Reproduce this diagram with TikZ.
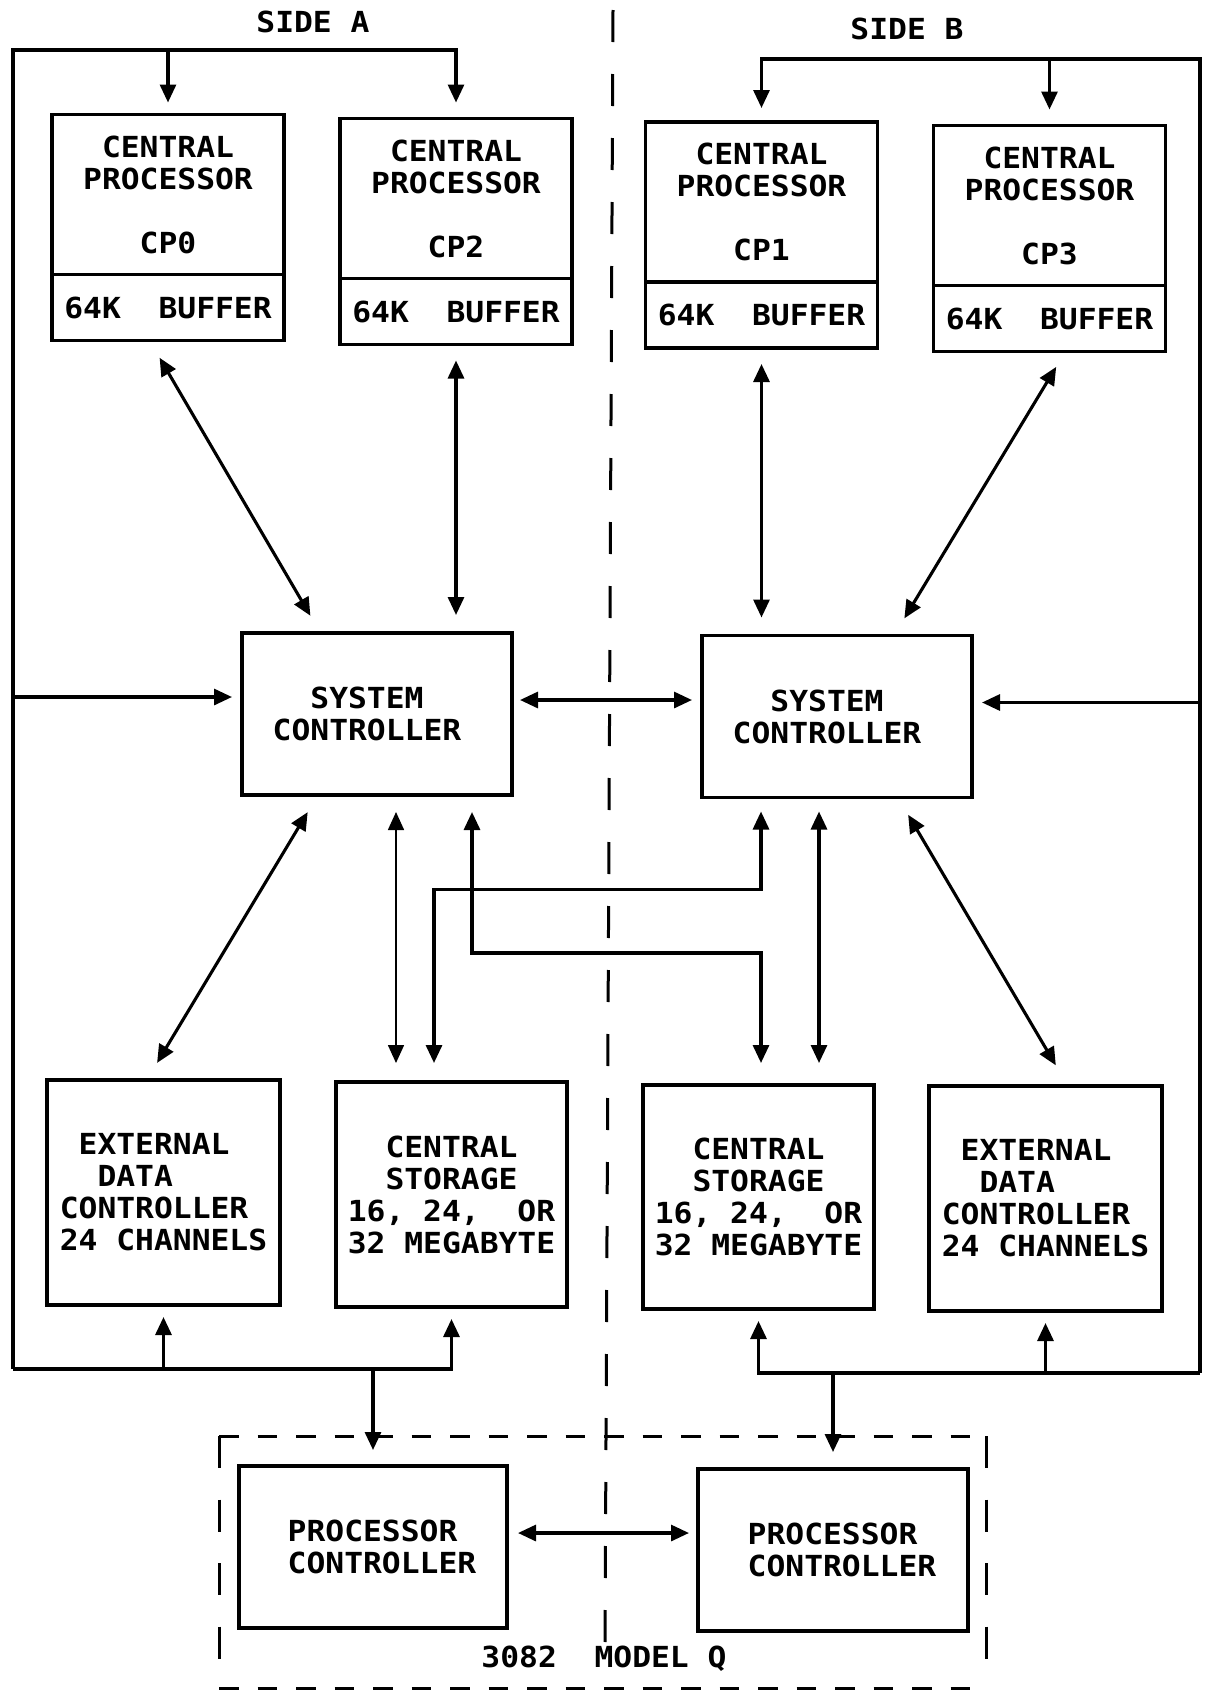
\documentclass[tikz,border=0pt]{standalone}
\usepackage{fontspec}
\newfontfamily\plotfont{DejaVu Sans Mono}[FakeStretch=1.08]
\usetikzlibrary{positioning,calc,arrows.meta}

\begin{document}
\begin{tikzpicture}[x=.5pt,y=-.5pt,
  >={Triangle[length=9pt,width=8pt]},
  every node/.style={font=\plotfont\bfseries\fontsize{14.5}{16}\selectfont},
  unitbox/.style={draw,line width=1.7pt,inner sep=0pt,outer sep=0pt,align=center},
  wire/.style={line width=1.55pt},
  dbl/.style={wire,<->,shorten <=9pt,shorten >=9pt}]
\useasboundingbox (0,0) rectangle (1208,1692);
%Prozessoren
\node[unitbox,minimum width=116pt,minimum height=80pt] (cp0) at (168,194.5) {CENTRAL\\PROCESSOR\\[16pt]CP0};
\node[unitbox,minimum width=116pt,minimum height=33pt,below=0pt of cp0] (cp0b) {64K\ \ BUFFER};
\node[unitbox,minimum width=116pt,minimum height=80pt] (cp2) at (456,198.5) {CENTRAL\\PROCESSOR\\[16pt]CP2};
\node[unitbox,minimum width=116pt,minimum height=33pt,below=0pt of cp2] (cp2b) {64K\ \ BUFFER};
\node[unitbox,minimum width=116pt,minimum height=80pt] (cp1) at (761.5,202) {CENTRAL\\PROCESSOR\\[16pt]CP1};
\node[unitbox,minimum width=116pt,minimum height=33pt,below=0pt of cp1] (cp1b) {64K\ \ BUFFER};
\node[unitbox,minimum width=116pt,minimum height=80pt] (cp3) at (1049.5,205.5) {CENTRAL\\PROCESSOR\\[16pt]CP3};
\node[unitbox,minimum width=116pt,minimum height=33pt,below=0pt of cp3] (cp3b) {64K\ \ BUFFER};
%Systemsteuerung
\node[unitbox,minimum width=135pt,minimum height=81pt] (sca) at (377,714) {SYSTEM\hspace*{10pt}\\CONTROLLER\hspace*{10pt}};
\node[unitbox,minimum width=135pt,minimum height=81pt] (scb) at (837,716.5) {SYSTEM\hspace*{10pt}\\CONTROLLER\hspace*{10pt}};
%Speicher und Kanaele
\node[unitbox,align=left,minimum width=116.5pt,minimum height=112.5pt] (edca) at (163.5,1192.5) {\hphantom{X}EXTERNAL\\\hphantom{XX}DATA\\CONTROLLER\\24 CHANNELS};
\node[unitbox,align=left,minimum width=115.5pt,minimum height=112.5pt] (csa) at (451.5,1194.5) {\hphantom{XX}CENTRAL\\\hphantom{XX}STORAGE\\16, 24,\ \ OR\\32 MEGABYTE};
\node[unitbox,align=left,minimum width=115.5pt,minimum height=112pt] (csb) at (758.5,1197) {\hphantom{XX}CENTRAL\\\hphantom{XX}STORAGE\\16, 24,\ \ OR\\32 MEGABYTE};
\node[unitbox,align=left,minimum width=116.5pt,minimum height=112.5pt] (edcb) at (1045.5,1198.5) {\hphantom{X}EXTERNAL\\\hphantom{XX}DATA\\CONTROLLER\\24 CHANNELS};
%Prozessorsteuerung
\node[unitbox,align=left,minimum width=134pt,minimum height=81pt] (pca) at (373,1547) {\hspace*{9pt}PROCESSOR\\\hspace*{9pt}CONTROLLER};
\node[unitbox,align=left,minimum width=135pt,minimum height=81pt] (pcb) at (833,1550) {\hspace*{9pt}PROCESSOR\\\hspace*{9pt}CONTROLLER};
%Beschriftung
\node (sidea) at (313,22) {SIDE A};
\node (sideb) at (907,29) {SIDE B};
\node (model) at (604,1659) {3082\ \ MODEL Q};
%Trennlinie und Rahmen
\draw[line width=1.5pt,dash pattern=on 16pt off 16pt] (613,10) -- (605,1643);
\draw[line width=1.5pt,dash pattern=on 9.75pt off 9.5pt] (219,1436) -- (986,1436) (219,1688) -- (986,1688);
\draw[line width=1.5pt,dash pattern=on 16pt off 15.75pt] (219,1436) -- (219,1688) (986,1436) -- (986,1688);
%Seite A
\coordinate (busAtop) at (13,50);
\coordinate (busAbot) at (13,1369);
\coordinate (scaW) at ([yshift=8.5pt]sca.west);
\draw[wire,->,shorten >=8pt] (busAbot) -- (busAtop) -| (cp2.north);
\draw[wire,->,shorten >=6pt] (cp0.north |- busAtop) -- (cp0.north);
\draw[wire,->,shorten >=6pt] (busAbot) -| (csa.south);
\draw[wire,->,shorten >=6pt] (edca.south |- busAbot) -- (edca.south);
\draw[wire,->,shorten >=5pt] (scaW -| busAtop) -- (scaW);
\draw[wire,->,shorten >=8pt] (pca.north |- busAbot) -- (pca.north);
%Seite B
\coordinate (busBtop) at (1200,59);
\coordinate (busBbot) at (1200,1373);
\coordinate (scbE) at ([yshift=7pt]scb.east);
\draw[wire,->,shorten >=7pt] (busBbot) -- (busBtop) -| (cp1.north);
\draw[wire,->,shorten >=8pt] (cp3.north |- busBtop) -- (cp3.north);
\draw[wire,->,shorten >=6pt] (busBbot) -| (csb.south);
\draw[wire,->,shorten >=6pt] (edcb.south |- busBbot) -- (edcb.south);
\draw[wire,->,shorten >=5pt] (scbE -| busBtop) -- (scbE);
\draw[wire,->,shorten >=8.5pt] (pcb.north |- busBbot) -- (pcb.north);
%Prozessor - Systemsteuerung
\draw[dbl,shorten <=10pt,shorten >=10pt] ($(cp0b.south)+(-18.5,0)$) -- ($(sca.north west)+(78.5,0)$);
\draw[dbl,shorten <=8pt] (cp2b.south) -- (cp2b.south |- sca.north);
\draw[dbl,shorten <=8pt] (cp1b.south) -- (cp1b.south |- scb.north);
\draw[dbl,shorten <=9pt,shorten >=10pt] ($(cp3b.south)+(16,0)$) -- ($(scb.north east)+(-78,0)$);
\coordinate (scaE) at ([yshift=7pt]sca.east);
\draw[dbl,shorten <=4pt,shorten >=5pt] (scaE) -- (scaE -| scb.west);
%Systemsteuerung - Speicher
\draw[dbl,shorten <=10pt,shorten >=10pt] ($(sca.south west)+(76,0)$) -- ($(edca.north)+(-16.7,0)$);
\draw[<->,line width=.8pt,shorten <=8.5pt,shorten >=9.5pt] ($(sca.south west)+(154,0)$) -- ($(csa.north west)+(60,0)$);
\draw[dbl,shorten <=9.5pt,shorten >=7pt] ($(csa.north west)+(98,0)$) |- ($(scb.south west)+(59,92)$) -- ($(scb.south west)+(59,0)$);
\draw[dbl,shorten <=8.5pt,shorten >=11pt] ($(sca.south west)+(230,0)$) |- ($(csb.north west)+(118,-132)$) -- ($(csb.north west)+(118,0)$);
\coordinate (scbS) at ($(scb.south west)+(117,0)$);
\draw[dbl,shorten <=7pt,shorten >=11pt] (scbS) -- (scbS |- csb.north);
\draw[dbl,shorten <=10pt,shorten >=12pt] ($(scb.south east)+(-74,0)$) -- ($(edcb.north)+(22.5,0)$);
%Prozessorsteuerung
\coordinate (pcaE) at ([yshift=7pt]pca.east);
\draw[dbl,shorten <=5.5pt,shorten >=4.5pt] (pcaE) -- (pcaE -| pcb.west);
\end{tikzpicture}
\end{document}
